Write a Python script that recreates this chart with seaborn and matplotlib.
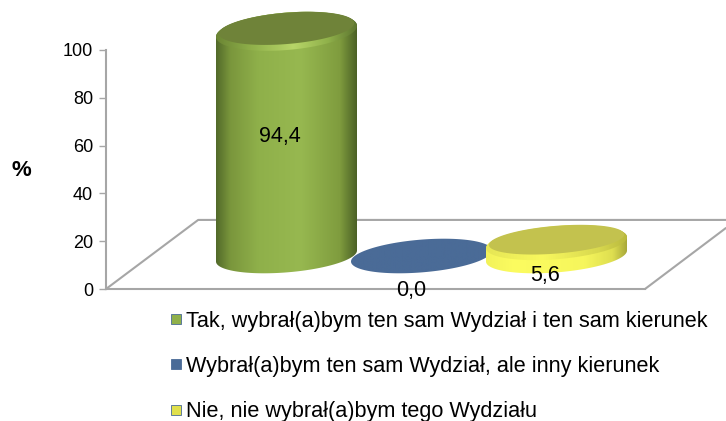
import numpy as np
import matplotlib
matplotlib.use('Agg')
import matplotlib.pyplot as plt
from matplotlib.colors import LinearSegmentedColormap
from matplotlib.lines import Line2D
from matplotlib.patches import Polygon
import seaborn as sns

categories = ['Tak, wybrał(a)bym ten sam Wydział i ten sam kierunek',
              'Wybrał(a)bym ten sam Wydział, ale inny kierunek',
              'Nie, nie wybrał(a)bym tego Wydziału']
values = [94.4, 0.0, 5.6]
value_labels = ['94,4', '0,0', '5,6']
y_ticks = [0, 20, 40, 60, 80, 100]

base_colors = ['#8fb04a', '#4a6b97', '#e0e04c']
side_shades = [[(0, '#526a2a'), (0.1, '#7a963c'), (0.3, '#8fb04a'), (0.6, '#97b850'), (0.88, '#7f9c3e'), (1, '#4c6126')],
               [(0, '#4a6b97'), (1, '#4a6b97')],
               [(0, '#f2f25a'), (0.2, '#fcfc60'), (0.7, '#f6f65c'), (0.9, '#dede50'), (1, '#a9a93a')]]
rim_shades = [[(0, '#6b8534'), (0.25, '#8fb04a'), (0.55, '#b7d568'), (0.8, '#8fb04a'), (1, '#5d7530')],
              [(0, '#4a6b97'), (1, '#4a6b97')],
              [(0, '#e6e655'), (0.4, '#f8f85e'), (0.8, '#d8d84e'), (1, '#b9b93e')]]
top_colors = ['#6f8339', '#4a6b97', '#c3c24e']
label_offsets = [(-4.5, 5.5), (-7.5, -24.5), (-8, -19)]

W, H = 726, 421
sns.set_style('white')
plt.rcParams['font.family'] = ['Liberation Sans', 'DejaVu Sans']
plt.rcParams['text.color'] = 'black'

fig = plt.figure(figsize=(W / 100, H / 100), dpi=100)

# value axis with the floor of the 3D box
ax_val = fig.add_axes([106 / W, (H - 289) / H, 539 / W, 239 / H])
ax_val.set_ylim(0, 100)
ax_val.set_xlim(0, 1)
ax_val.set_xticks([])
ax_val.set_yticks(y_ticks)
ax_val.tick_params(axis='y', length=5, width=1, color='#a6a6a6', left=True, labelsize=13, pad=4.3, labelcolor='black')
sns.despine(ax=ax_val, top=True, right=True)
for side in ['left', 'bottom']:
    ax_val.spines[side].set_color('#a6a6a6')
    ax_val.spines[side].set_linewidth(1.5)
floor_x = [0, 0.171, 1.15]
floor_y = [0, 0.289, 0.289]
ax_val.plot(floor_x, floor_y, color='#a6a6a6', lw=1.5, transform=ax_val.transAxes, clip_on=False)
ax_val.plot([1, 1.15], [0, 0.255], color='#a6a6a6', lw=1.5, transform=ax_val.transAxes, clip_on=False)

fig.text(21 / W, (H - 170) / H, '%', fontsize=16, fontweight='bold', ha='center', va='center', color='black')

# bars sit on the middle of the floor, so their axes is shifted up
ax = fig.add_axes([0, 0, 1, 1])
ax.patch.set_alpha(0)
sns.barplot(x=categories, y=values, hue=categories, palette=base_colors, width=141 / 135,
            legend=False, ax=ax, errorbar=None)
bars = [c[0] for c in ax.containers]
bars = sorted(bars, key=lambda b: b.get_x())
px_x, px_y = 135.0, 2.38
xlim = (-286.5 / px_x, (W - 286.5) / px_x)
ylim = (-(H - 256) / px_y, 256 / px_y)
ax.axis('off')


def ellipse(cx, cy, a, b, s, t):
    return np.column_stack([cx + a * np.cos(t), cy + b * np.sin(t) + s * np.cos(t)])


def gradient(shades, x0, x1, y0, y1, z, clip):
    cmap = LinearSegmentedColormap.from_list('side', shades)
    im = ax.imshow(np.linspace(0, 1, 256)[None, :], cmap=cmap, aspect='auto', zorder=z, extent=[x0, x1, y0, y1])
    im.set_clip_path(clip)


b_el = 16.4 / px_y
s_el = 5.5 / px_y
draw_order = [1, 0, 2]
for i in draw_order:
    bar = bars[i]
    bar.set_visible(False)
    x0, w, h = bar.get_x(), bar.get_width(), bar.get_height()
    cx, a = x0 + w / 2, w / 2
    z = 3 + draw_order.index(i) * 3
    # the top of a tall bar looks a bit wider open
    b_top = b_el * (1 + 0.15 * h / 100)
    lower = ellipse(cx, 0, a, b_el, s_el, np.linspace(np.pi, 2 * np.pi, 120))
    upper = ellipse(cx, h, a, b_top, s_el, np.linspace(0, np.pi, 120))
    body = Polygon(np.vstack([lower, upper]), closed=True, facecolor='none', edgecolor='none',
                   transform=ax.transData, zorder=z)
    ax.add_patch(body)
    gradient(side_shades[i], x0, x0 + w, -30, h + 30, z, body)
    if h > 0:
        t = np.linspace(0, 2 * np.pi, 200)
        rim = Polygon(ellipse(cx, h, a, b_top, s_el, t), closed=True, facecolor='none', edgecolor='none',
                      transform=ax.transData, zorder=z + 1)
        ax.add_patch(rim)
        gradient(rim_shades[i], x0, x0 + w, h - 30, h + 30, z + 1, rim)
        ax.add_patch(Polygon(ellipse(cx, h + 3.0 / px_y, a * 0.96, b_top * 0.84, s_el * 0.96, t), closed=True,
                             facecolor=top_colors[i], edgecolor='none', zorder=z + 2))

ax.set_xlim(xlim)
ax.set_ylim(ylim)

for i, bar in enumerate(bars):
    xc = bar.get_x() + bar.get_width() / 2
    ax.annotate(value_labels[i], (xc, bar.get_height() / 2), xytext=label_offsets[i], textcoords='offset points',
                ha='center', va='center', fontsize=15.5, color='black', zorder=20)

handles = [Line2D([], [], linestyle='none', marker='s', markersize=7.5, markerfacecolor=c, markeredgecolor='#4a6b97',
                  markeredgewidth=0.6) for c in base_colors]
fig.legend(handles, categories, loc='upper left', bbox_to_anchor=(156.5 / W, (H - 302) / H), frameon=False,
           fontsize=15.6, labelspacing=1.12, handletextpad=-0.05, handlelength=1.0, borderpad=0.4, borderaxespad=0,
           labelcolor='black')

fig.savefig('out.png', dpi=100, facecolor='white')
